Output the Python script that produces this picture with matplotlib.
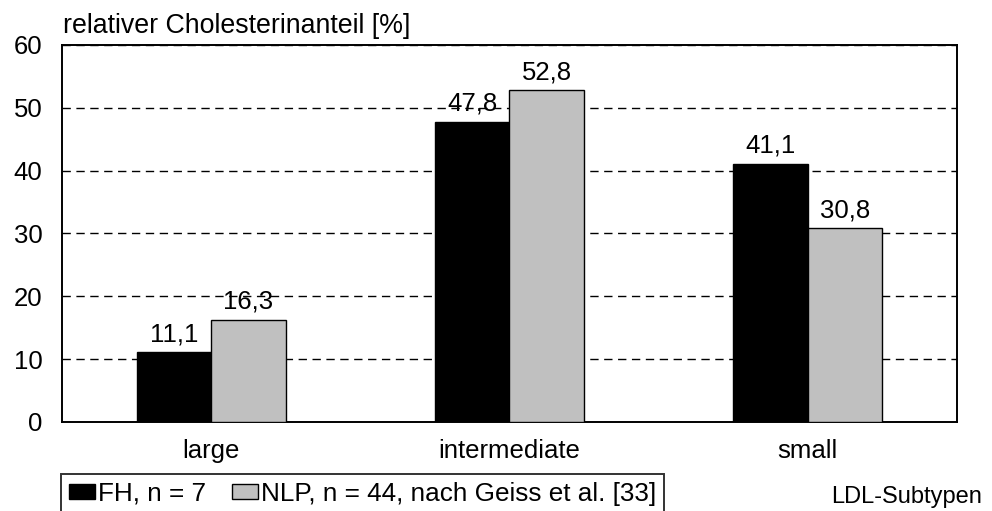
import numpy as np
import matplotlib.pyplot as plt

plt.rcParams['font.family'] = ['Liberation Sans', 'DejaVu Sans']

kategorien = ['large', 'intermediate', 'small']
fh = [11.1, 47.8, 41.1]
nlp = [16.3, 52.8, 30.8]
fh_label = 'FH, n = 7'
nlp_label = 'NLP, n = 44, nach Geiss et al. [33]'

fig = plt.figure(figsize=(9.92, 5.11), dpi=100)
ax = fig.add_axes([0.0625, 0.1742, 0.9022, 0.7378])

x = np.arange(len(kategorien))
w = 0.25
b1 = ax.bar(x - w/2, fh, w, color='black', edgecolor='black', linewidth=1, label=fh_label, zorder=3)
b2 = ax.bar(x + w/2, nlp, w, color='#c0c0c0', edgecolor='black', linewidth=1, label=nlp_label, zorder=3)

# Werte ueber den Balken, Dezimalkomma
for bars in (b1, b2):
    for b in bars:
        ax.text(b.get_x() + b.get_width()/2, b.get_height() + 1.75,
                f'{b.get_height():.1f}'.replace('.', ','),
                ha='center', va='baseline', fontsize=18.5, zorder=2)

ax.set_xlim(-0.5, 2.5)
ax.set_ylim(0, 60)
ax.set_yticks(range(0, 61, 10))
ax.set_xticks(x)
ax.set_xticklabels(kategorien)
ax.tick_params(length=0, labelsize=18.5)
ax.tick_params(axis='y', pad=14)
ax.tick_params(axis='x', pad=12)
ax.yaxis.grid(True, linestyle=(0, (6, 4)), color='black', linewidth=1, zorder=0)
for s in ax.spines.values():
    s.set_linewidth(1.4)

fig.text(63/992, 1 - 33/511, 'relativer Cholesterinanteil [%]', fontsize=19.3, va='baseline', ha='left')
fig.text(982/992, 1 - 503/511, 'LDL-Subtypen', fontsize=17, va='baseline', ha='right')

leg = fig.legend(loc='upper left', bbox_to_anchor=(61/992, 1 - 474/511), ncol=2,
                 fontsize=18.8, frameon=True, fancybox=False, borderaxespad=0,
                 handlelength=1.0, handleheight=0.5, handletextpad=0.1,
                 columnspacing=1.0, borderpad=0.3)
leg.get_frame().set_edgecolor('black')
leg.get_frame().set_linewidth(1.4)

fig.savefig('out.png', dpi=100)
